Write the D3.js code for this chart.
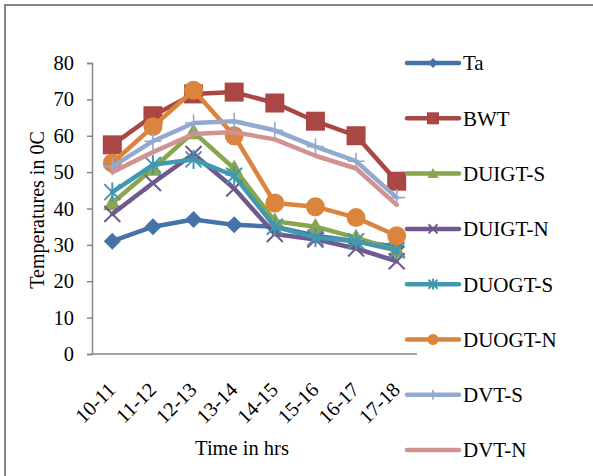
<!DOCTYPE html>
<html>
<head>
<meta charset="utf-8">
<script src="https://cdn.jsdelivr.net/npm/d3@7"></script>
<style>
  html, body { margin: 0; padding: 0; background: #fff; }
  svg { display: block; }
  text { font-family: "Liberation Serif", "Times New Roman", serif; fill: #000; }
</style>
</head>
<body>
<svg id="chart" width="593" height="476"></svg>
<script>
// Hourly temperatures (°C) per measurement point
const categories = ["10-11", "11-12", "12-13", "13-14", "14-15", "15-16", "16-17", "17-18"];
const seriesNames = ["Ta", "BWT", "DUIGT-S", "DUIGT-N", "DUOGT-S", "DUOGT-N", "DVT-S", "DVT-N"];
const Ta      = [31, 35, 37, 35.5, 35, 32.5, 31, 29.5];
const BWT     = [57.5, 65.5, 71.5, 72, 69, 64, 60, 47.5];
const DUIGT_S = [41.5, 51, 61, 51, 36.5, 35, 32, 28.5];
const DUIGT_N = [38.5, 47, 55, 45.5, 33, 31.5, 29, 25.5];
const DUOGT_S = [44.5, 52, 53.5, 49, 35, 32, 31, 28.5];
const DUOGT_N = [52.5, 62.5, 72.5, 60, 41.5, 40.5, 37.5, 32.5];
const DVT_S   = [51.5, 58.5, 63.5, 64, 61.5, 57, 53, 43];
const DVT_N   = [50, 55.5, 60.5, 61, 59, 54.5, 51, 41];
const yTicks  = [0, 10, 20, 30, 40, 50, 60, 70, 80];

const seriesValues = [Ta, BWT, DUIGT_S, DUIGT_N, DUOGT_S, DUOGT_N, DVT_S, DVT_N];
const colors  = ["#4572A7", "#AA4643", "#89A54E", "#71588F", "#4198AF", "#DB843D", "#93A9CF", "#D19392"];
const markers = ["diamond", "square", "triangle", "x", "star", "circle", "plus", "none"];

const svg = d3.select("#chart");

// outer frame
svg.append("rect")
  .attr("x", 5).attr("y", 5).attr("width", 620).attr("height", 500)
  .attr("fill", "none").attr("stroke", "#868686").attr("stroke-width", 2);

const x = d3.scalePoint().domain(categories).range([92, 417]).padding(0.5);
const y = d3.scaleLinear().domain([0, 80]).range([354, 63]);

// y axis
const yAxis = svg.append("g").attr("transform", "translate(92,0)")
  .call(d3.axisLeft(y).tickValues(yTicks).tickSize(5).tickPadding(13));
yAxis.select(".domain").attr("stroke", "#868686").attr("stroke-width", 1.5);
yAxis.selectAll(".tick line").attr("stroke", "#868686").attr("stroke-width", 1.5);
yAxis.selectAll(".tick text").attr("font-size", 20.5).attr("fill", "#000")
  .attr("font-family", "Liberation Serif, serif");

// x axis
const xAxis = svg.append("g").attr("transform", "translate(0,354)")
  .call(d3.axisBottom(x).tickSize(0).tickSizeOuter(0));
xAxis.select(".domain").attr("stroke", "#868686").attr("stroke-width", 1.5)
  .attr("d", "M92,0H417");
xAxis.selectAll(".tick text")
  .attr("font-size", 20.5).attr("fill", "#000")
  .attr("font-family", "Liberation Serif, serif")
  .attr("text-anchor", "end")
  .attr("dy", null).attr("y", 0)
  .attr("transform", "translate(4,37) rotate(-45)");

// axis titles
svg.append("text").attr("x", 242).attr("y", 455)
  .attr("text-anchor", "middle").attr("font-size", 20.5).text("Time in hrs");
svg.append("text")
  .attr("transform", "translate(44,210) rotate(-90)")
  .attr("text-anchor", "middle").attr("font-size", 20).text("Temperatures in 0C");

// marker drawing
function drawMarker(g, type, cx, cy, color, s) {
  if (type === "diamond") {
    g.append("path").attr("d", `M${cx},${cy - s}L${cx + s},${cy}L${cx},${cy + s}L${cx - s},${cy}Z`).attr("fill", color);
  } else if (type === "square") {
    g.append("rect").attr("x", cx - s).attr("y", cy - s).attr("width", 2 * s).attr("height", 2 * s).attr("fill", color);
  } else if (type === "triangle") {
    g.append("path").attr("d", `M${cx},${cy - s}L${cx + s},${cy + s * 0.8}L${cx - s},${cy + s * 0.8}Z`).attr("fill", color);
  } else if (type === "circle") {
    g.append("circle").attr("cx", cx).attr("cy", cy).attr("r", s).attr("fill", color);
  } else if (type === "x") {
    g.append("path").attr("d", `M${cx - s},${cy - s}L${cx + s},${cy + s}M${cx - s},${cy + s}L${cx + s},${cy - s}`)
      .attr("stroke", color).attr("stroke-width", 2).attr("fill", "none");
  } else if (type === "star") {
    g.append("path").attr("d", `M${cx - s},${cy - s}L${cx + s},${cy + s}M${cx - s},${cy + s}L${cx + s},${cy - s}M${cx},${cy - s * 1.2}L${cx},${cy + s * 1.2}`)
      .attr("stroke", color).attr("stroke-width", 2).attr("fill", "none");
  } else if (type === "plus") {
    g.append("path").attr("d", `M${cx - s},${cy}L${cx + s},${cy}M${cx},${cy - s}L${cx},${cy + s}`)
      .attr("stroke", color).attr("stroke-width", 1.6).attr("fill", "none");
  }
}
const markerSize = { diamond: 8.5, square: 9.5, triangle: 9, circle: 9.5, x: 8, star: 8, plus: 8.5 };
const legendMarkerSize = { diamond: 5, square: 6, triangle: 5.5, circle: 5.5, x: 4.5, star: 4.5, plus: 5 };

// series lines and markers
const line = d3.line().x((d, i) => x(categories[i])).y(d => y(d));
seriesValues.forEach((vals, k) => {
  const g = svg.append("g");
  g.append("path").datum(vals).attr("d", line)
    .attr("fill", "none").attr("stroke", colors[k]).attr("stroke-width", 4.5)
    .attr("stroke-linejoin", "round").attr("stroke-linecap", "round");
  vals.forEach((v, i) => drawMarker(g, markers[k], x(categories[i]), y(v), colors[k], markerSize[markers[k]] || 0));
});

// legend
const legend = svg.append("g");
seriesNames.forEach((name, k) => {
  const ly = 63 + k * 55.3;
  legend.append("line").attr("x1", 407).attr("x2", 459).attr("y1", ly).attr("y2", ly)
    .attr("stroke", colors[k]).attr("stroke-width", 4.5).attr("stroke-linecap", "round");
  drawMarker(legend, markers[k], 433, ly, colors[k], legendMarkerSize[markers[k]] || 0);
  legend.append("text").attr("x", 463).attr("y", ly).attr("dy", "0.35em")
    .attr("font-size", 21).text(name);
});
</script>
</body>
</html>
